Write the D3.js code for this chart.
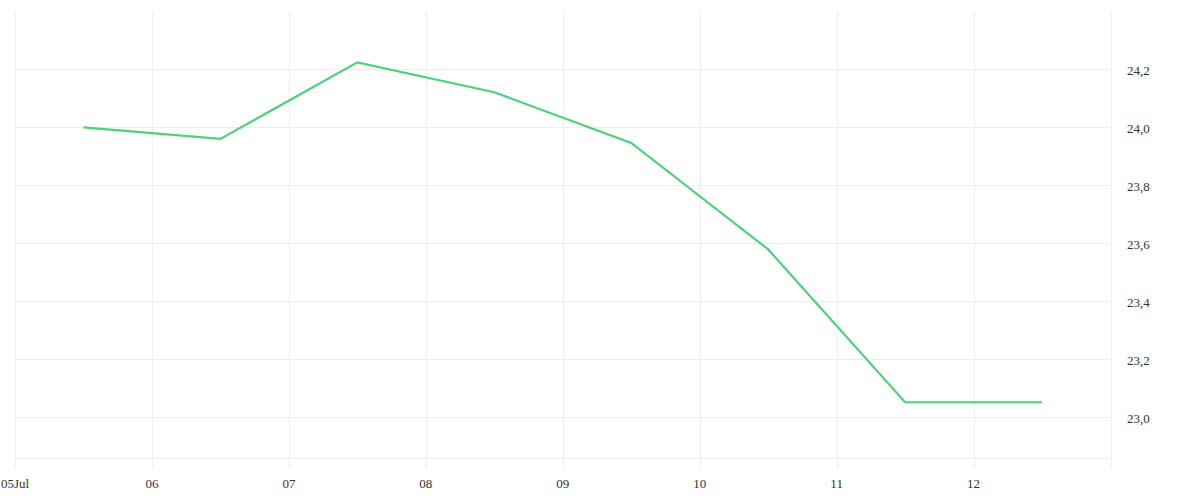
<!DOCTYPE html>
<html>
<head>
<meta charset="utf-8">
<script src="https://cdn.jsdelivr.net/npm/d3@7"></script>
<style>
  body { margin: 0; background: #fff; }
  svg text { font-family: "Liberation Serif", "DejaVu Serif", serif; font-size: 13px; fill: #333; }
</style>
</head>
<body>
<svg id="chart" width="1200" height="500"></svg>
<script>
// data (half-day points, 12:00 of each day)
const days = ["2023-07-05", "2023-07-06", "2023-07-07", "2023-07-08", "2023-07-09", "2023-07-10", "2023-07-11", "2023-07-12"];
const values = [24.00, 23.96, 24.224, 24.121, 23.946, 23.579, 23.052, 23.052];
const xTickDays = ["2023-07-05", "2023-07-06", "2023-07-07", "2023-07-08", "2023-07-09", "2023-07-10", "2023-07-11", "2023-07-12"];
const xTickLabels = ["05Jul", "06", "07", "08", "09", "10", "11", "12"];
const yTicks = [23.0, 23.2, 23.4, 23.6, 23.8, 24.0, 24.2];

const svg = d3.select("#chart");
const plot = { left: 15, right: 1110.5, top: 12, bottom: 458 };

const parse = d3.utcParse("%Y-%m-%d");
const series = days.map((d, i) => ({ date: d3.utcHour.offset(parse(d), 12), value: values[i] }));

const x = d3.scaleUtc()
    .domain([parse("2023-07-05"), parse("2023-07-13")])
    .range([plot.left, plot.right]);

const y = d3.scaleLinear()
    .domain([22.8597, 24.3976])
    .range([plot.bottom, plot.top]);

const grid = svg.append("g").attr("stroke", "#eeeeee").attr("stroke-width", 1);

// horizontal grid
grid.selectAll(".hgrid")
    .data(yTicks)
    .enter()
    .append("line")
    .attr("x1", plot.left)
    .attr("x2", plot.right)
    .attr("y1", d => Math.round(y(d)) + 0.5)
    .attr("y2", d => Math.round(y(d)) + 0.5);

// bottom border
grid.append("line")
    .attr("x1", plot.left).attr("x2", plot.right)
    .attr("y1", plot.bottom + 0.5).attr("y2", plot.bottom + 0.5);

// vertical grid (with small ticks below the plot)
grid.selectAll(".vgrid")
    .data(xTickDays.map(parse).concat([parse("2023-07-13")]))
    .enter()
    .append("line")
    .attr("x1", d => Math.round(x(d)) + 0.5)
    .attr("x2", d => Math.round(x(d)) + 0.5)
    .attr("y1", plot.top)
    .attr("y2", plot.bottom + 10);

// x labels
svg.selectAll(".xlab")
    .data(xTickDays)
    .enter()
    .append("text")
    .attr("x", d => x(parse(d)))
    .attr("y", 488)
    .attr("text-anchor", "middle")
    .text((d, i) => xTickLabels[i]);

// y labels (right side)
const fmt = v => d3.format(".1f")(v).replace(".", ",");
svg.selectAll(".ylab")
    .data(yTicks)
    .enter()
    .append("text")
    .attr("x", 1127)
    .attr("y", d => y(d) + 6)
    .attr("text-anchor", "start")
    .text(d => fmt(d));

// line
const line = d3.line()
    .x(d => x(d.date))
    .y(d => y(d.value));

svg.append("path")
    .datum(series)
    .attr("d", line)
    .attr("fill", "none")
    .attr("stroke", "#4cd27b")
    .attr("stroke-width", 2.2)
    .attr("stroke-linejoin", "miter");
</script>
</body>
</html>
